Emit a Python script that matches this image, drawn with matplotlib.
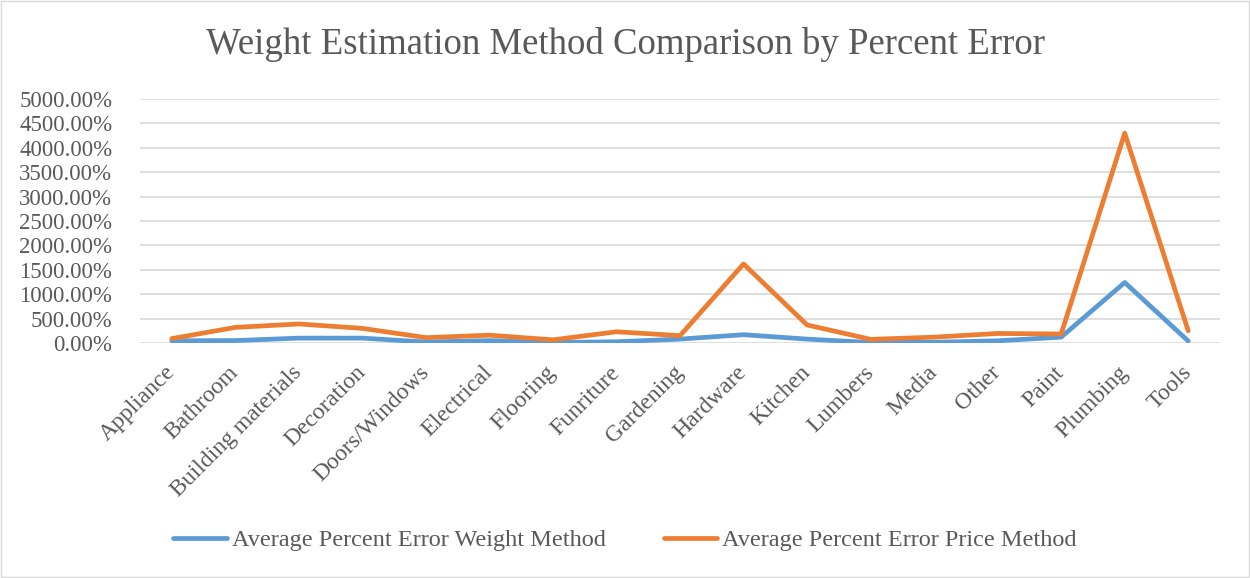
import matplotlib.pyplot as plt
from matplotlib.patches import Rectangle
from matplotlib.ticker import FuncFormatter

categories = ["Appliance", "Bathroom", "Building materials", "Decoration",
              "Doors/Windows", "Electrical", "Flooring", "Funriture",
              "Gardening", "Hardware", "Kitchen", "Lumbers", "Media",
              "Other", "Paint", "Plumbing", "Tools"]
# average percent error per category
weight_method = [45, 50, 100, 100, 20, 50, 12, 25, 80, 170, 80, 10, 15,
                 45, 120, 1240, 40]
price_method = [90, 320, 390, 300, 110, 160, 65, 230, 150, 1620, 370, 75,
                120, 195, 185, 4300, 250]

plt.rcParams['font.family'] = ['Liberation Serif', 'DejaVu Serif']
txt = '#595959'

fig = plt.figure(figsize=(12.5, 5.78), dpi=100)
ax = fig.add_axes([140/1250, 1-343/578, 1080/1250, 244/578])

x = range(len(categories))
ax.plot(x, weight_method, color='#5B9BD5', lw=3.4, solid_capstyle='round',
        label='Average Percent Error Weight Method', zorder=3)
ax.plot(x, price_method, color='#ED7D31', lw=3.4, solid_capstyle='round',
        label='Average Percent Error Price Method', zorder=3)

ax.set_xlim(-0.5, len(categories)-0.5)
ax.set_ylim(0, 5000)
ax.set_yticks(range(0, 5001, 500))
ax.yaxis.set_major_formatter(FuncFormatter(lambda v, p: f'{v:.2f}%'))
ax.grid(axis='y', color='#d9d9d9', lw=1.2)
ax.set_axisbelow(True)
for s in ax.spines.values():
    s.set_visible(False)
ax.tick_params(axis='both', length=0, labelcolor=txt)
ax.tick_params(axis='y', pad=20, labelsize=16.5)
ax.tick_params(axis='x', pad=19, labelsize=17)
ax.set_xticks(list(x))
ax.set_xticklabels(categories, rotation=45, ha='right', va='center',
                   rotation_mode='anchor')

fig.text(0.5, 1-45/578, 'Weight Estimation Method Comparison by Percent Error',
         ha='center', va='center', fontsize=26.5, color=txt)

fig.legend(loc='center', bbox_to_anchor=(0.5, 1-540/578), ncol=2,
           frameon=False, fontsize=17.5, labelcolor=txt, handlelength=2.2,
           handletextpad=0.2, columnspacing=2.4)

fig.patches.append(Rectangle((0.001, 0.001), 0.998, 0.997, transform=fig.transFigure,
                             fill=False, edgecolor='#d9d9d9', lw=1))

fig.savefig('out.png', dpi=100)
